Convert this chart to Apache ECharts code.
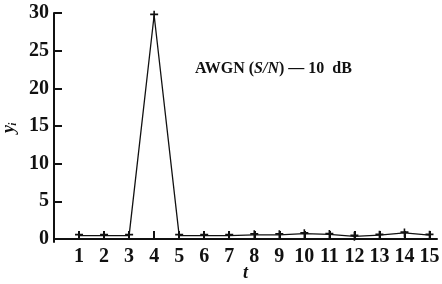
<!DOCTYPE html>
<html>
<head>
<meta charset="utf-8">
<script src="https://cdn.jsdelivr.net/npm/echarts@6/dist/echarts.min.js"></script>
<style>
  html, body { margin: 0; padding: 0; background: #fff; }
  #chart { width: 442px; height: 284px; }
</style>
</head>
<body>
<div id="chart"></div>
<script>
// time index t and detector output y_i
const tValues = [1, 2, 3, 4, 5, 6, 7, 8, 9, 10, 11, 12, 13, 14, 15]
const yValues = [0.45, 0.45, 0.45, 29.7, 0.45, 0.45, 0.45, 0.55, 0.55, 0.7, 0.6, 0.35, 0.5, 0.8, 0.5]
const yTicks = [0, 5, 10, 15, 20, 25, 30]
const xTicks = [1, 2, 3, 4, 5, 6, 7, 8, 9, 10, 11, 12, 13, 14, 15]

const serif = 'Liberation Serif'
const points = tValues.map((t, i) => [t, yValues[i]])

const chart = echarts.init(document.getElementById('chart'))
chart.setOption({
    animation: false,
    grid: {
        left: 54,
        right: 5,
        top: 13,
        bottom: 42,
        outerBoundsMode: 'none',
        containLabel: false
    },
    xAxis: {
        type: 'value',
        min: 0,
        max: 15.3,
        name: 't',
        nameLocation: 'middle',
        nameGap: 22,
        nameMoveOverlap: false,
        nameTextStyle: {
            fontFamily: serif,
            fontStyle: 'italic',
            fontWeight: 'bold',
            fontSize: 18,
            color: '#111'
        },
        axisLine: {
            lineStyle: { color: '#111', width: 2 }
        },
        axisTick: {
            inside: true,
            length: 8,
            customValues: xTicks,
            lineStyle: { color: '#111', width: 2 }
        },
        axisLabel: {
            customValues: xTicks,
            margin: 5,
            fontFamily: serif,
            fontWeight: 'bold',
            fontSize: 20,
            color: '#111'
        },
        splitLine: { show: false }
    },
    yAxis: {
        type: 'value',
        min: -0.4,
        max: 30,
        name: 'yᵢ',
        nameLocation: 'middle',
        nameGap: 36,
        nameMoveOverlap: false,
        nameRotate: 90,
        nameTextStyle: {
            fontFamily: serif,
            fontStyle: 'italic',
            fontWeight: 'bold',
            fontSize: 18,
            color: '#111'
        },
        axisLine: {
            show: true,
            lineStyle: { color: '#111', width: 2 }
        },
        axisTick: {
            inside: true,
            length: 8,
            customValues: yTicks,
            lineStyle: { color: '#111', width: 2 }
        },
        axisLabel: {
            customValues: yTicks,
            margin: 5,
            fontFamily: serif,
            fontWeight: 'bold',
            fontSize: 20,
            color: '#111'
        },
        splitLine: { show: false }
    },
    graphic: [{
        type: 'text',
        left: 195,
        top: 61,
        style: {
            text: 'AWGN ({i|S/N}) — 10  dB',
            rich: {
                i: { fontStyle: 'italic', fontWeight: 'bold', fontFamily: serif, fontSize: 16 }
            },
            fontFamily: serif,
            fontWeight: 'bold',
            fontSize: 16,
            fill: '#111'
        }
    }],
    series: [{
        type: 'line',
        data: points,
        symbol: 'path://M4,0h2v10h-2z M0,3h10v2h-10z',
        symbolSize: [8, 9],
        showAllSymbol: true,
        lineStyle: { color: '#111', width: 1.3 },
        itemStyle: { color: '#111' }
    }]
})
</script>
</body>
</html>
